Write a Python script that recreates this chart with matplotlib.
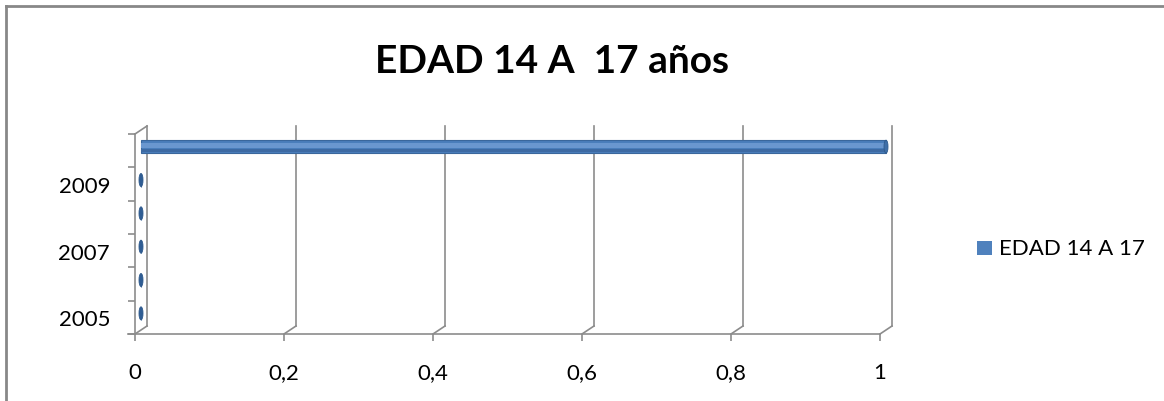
import numpy as np
import matplotlib
matplotlib.use('Agg')
import matplotlib.pyplot as plt
from matplotlib.patches import Ellipse, Rectangle

years = ['2005', '2006', '2007', '2008', '2009', '2010']
values = [0, 0, 0, 0, 0, 1]
series_name = 'EDAD 14 A 17'
title = 'EDAD 14 A  17 años'
x_ticks = [0, 0.2, 0.4, 0.6, 0.8, 1]
x_labels = ['0', '0,2', '0,4', '0,6', '0,8', '1']

plt.rcParams['font.family'] = ['Lato', 'DejaVu Sans']

W, H = 1164, 402
fig = plt.figure(figsize=(W / 100, H / 100), dpi=100)

# front plane of the 3d box, in pixels
px0, px1 = 135, 880
py_top, py_bot = 135, 335
ax = fig.add_axes([px0 / W, (H - py_bot) / H, (px1 - px0) / W, (py_bot - py_top) / H])
n = len(years)
ax.set_xlim(0, 1)
ax.set_ylim(0, n)
for s in ax.spines.values():
    s.set_visible(False)

# depth of the 3d effect in data units
dx = 12 / (px1 - px0)
dy = 8 / ((py_bot - py_top) / n)

grid = '#8c8c8c'
lw = 1.2

# walls and gridlines
for xv in x_ticks:
    ax.plot([xv, xv + dx], [0, dy], color=grid, lw=lw, clip_on=False)
    ax.plot([xv + dx, xv + dx], [dy, n + dy], color=grid, lw=lw, clip_on=False)
ax.plot([0, 0], [0, n], color=grid, lw=lw, clip_on=False)
ax.plot([0, dx], [n, n + dy], color=grid, lw=lw, clip_on=False)
ax.plot([-7 / (px1 - px0), 1], [0, 0], color=grid, lw=lw, clip_on=False)

# bars (cylinders)
pos = np.arange(n) + 0.5 + dy / 2
bh = 13 / ((py_bot - py_top) / n)
cap_w = 4 / (px1 - px0)
ax.barh(pos, values, height=bh, left=dx / 2, color='#4a7ebb',
        edgecolor='#3a679c', lw=0.8, label=series_name, clip_on=False, zorder=3)
ax.barh(pos + bh * 0.1, values, height=bh * 0.4, left=dx / 2, color='#6a97cf',
        lw=0, clip_on=False, zorder=3)
ax.barh(pos - bh * 0.32, values, height=bh * 0.25, left=dx / 2, color='#3d6aa3',
        lw=0, clip_on=False, zorder=3)
for p, v in zip(pos, values):
    ax.add_patch(Ellipse((dx / 2 + v, p), cap_w, bh, facecolor='#3f6fa8' if v else '#2f5d94',
                         edgecolor='#2f5a8c', lw=0.6, clip_on=False, zorder=4))

# ticks
ax.set_xticks(x_ticks)
ax.set_xticklabels(x_labels)
ax.set_yticks(np.arange(n + 1))
ax.set_yticklabels([])
ax.set_yticks(np.arange(n)[::2] + 0.5, minor=True)
ax.set_yticklabels(years[::2], minor=True)
ax.tick_params(axis='both', which='major', color=grid, width=lw, length=5, labelsize=16)
ax.tick_params(axis='x', which='major', pad=15)
ax.tick_params(axis='y', which='minor', length=0, pad=18, labelsize=16)
ax.set_facecolor('none')

# title
fig.text(552 / W, (H - 73) / H, title, ha='center', va='baseline',
         fontsize=28, fontweight='bold')

# legend
fig.patches.append(Rectangle((977 / W, (H - 256) / H), 15 / W, 14 / H,
                             transform=fig.transFigure, facecolor='#4f81bd', edgecolor='none'))
fig.text(999 / W, (H - 249) / H, series_name, ha='left', va='center', fontsize=16)

# outer border
fig.add_artist(plt.Line2D([6 / W, 6 / W], [0, (H - 6.5) / H], color='#888888', lw=2,
                          transform=fig.transFigure))
fig.add_artist(plt.Line2D([6 / W, 1163 / W], [(H - 6.5) / H, (H - 6.5) / H], color='#888888',
                          lw=2, transform=fig.transFigure))

fig.savefig('out.png', dpi=100)
